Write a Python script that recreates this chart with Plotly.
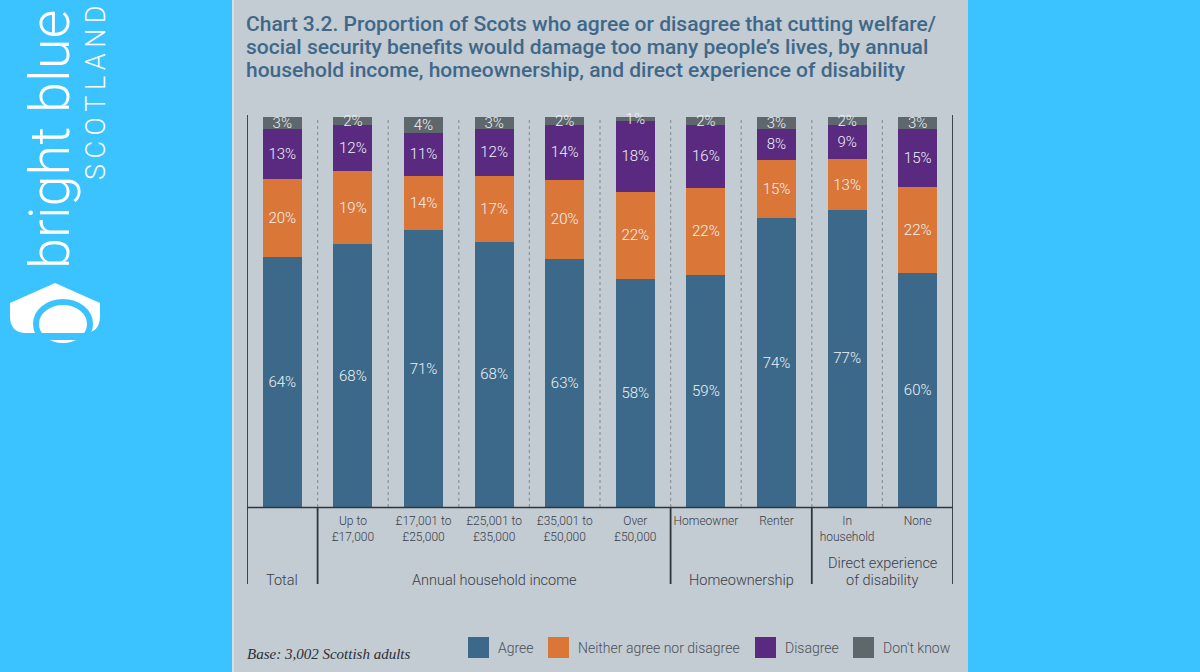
import plotly.graph_objects as go

# ---------------- data ----------------
categories = ["Total", "Up to £17,000", "£17,001 to £25,000", "£25,001 to £35,000",
              "£35,001 to £50,000", "Over £50,000", "Homeowner", "Renter",
              "In household", "None"]
tick_labels = ["", "Up to<br>£17,000", "£17,001 to<br>£25,000", "£25,001 to<br>£35,000",
               "£35,001 to<br>£50,000", "Over<br>£50,000", "Homeowner", "Renter",
               "In<br>household", "None"]
agree = [64, 68, 71, 68, 63, 58, 59, 74, 77, 60]
neither = [20, 19, 14, 17, 20, 22, 22, 15, 13, 22]
disagree = [13, 12, 11, 12, 14, 18, 16, 8, 9, 15]
dont_know = [3, 2, 4, 3, 2, 1, 2, 3, 2, 3]
series_names = ["Agree", "Neither agree nor disagree", "Disagree", "Don't know"]
group_names = ["Total", "Annual household income", "Homeownership",
               "Direct experience", "of disability"]
title_lines = ["Chart 3.2. Proportion of Scots who agree or disagree that cutting welfare/",
               "social security benefits would damage too many people’s lives, by annual",
               "household income, homeownership, and direct experience of disability"]
base_text = "Base: 3,002 Scottish adults"

# ---------------- style ----------------
series_colors = ["#3c698a", "#db7639", "#592a80", "#5e676b"]
SKY = "#3bc3ff"
PANEL = "#c3cbd3"
DARK = "#2f373d"
LABEL = "#3a4046"

# plot area in pixels
L, R, T, B = 247, 953, 117, 507
W, H = R - L, B - T


def px(x):
    return (x - L) / W


def py(y):
    return (B - y) / H


def P(x, y):
    return f"{px(x):.5f},{py(y):.5f}"


fig = go.Figure()
for name, vals, col in zip(series_names, [agree, neither, disagree, dont_know], series_colors):
    fig.add_trace(go.Bar(
        x=categories, y=vals, name=name,
        marker=dict(color=col, line=dict(width=0)),
        text=[f"{v}%" for v in vals],
        textposition="inside", insidetextanchor="middle",
        textfont=dict(family="Roboto", size=15, color="#eef2f5", weight=300),
        cliponaxis=False, showlegend=False, hoverinfo="x+y+name",
    ))

shapes = []
# panel background
shapes.append(dict(type="rect", xref="paper", yref="paper", x0=px(232), x1=px(968),
                   y0=py(672), y1=py(0), fillcolor=PANEL, line=dict(width=0), layer="below"))
shapes.append(dict(type="line", xref="paper", yref="paper", x0=px(233), x1=px(233),
                   y0=py(672), y1=py(0), line=dict(color="#d6dde3", width=2), layer="below"))
# dotted separators
for i in range(len(categories) - 1):
    shapes.append(dict(type="line", xref="x", yref="paper", x0=i + 0.5, x1=i + 0.5,
                       y0=0, y1=1, line=dict(color="#8b949b", width=1.2, dash="dot"),
                       layer="below"))
# baseline
shapes.append(dict(type="line", xref="paper", yref="paper", x0=0, x1=1, y0=py(507.5), y1=py(507.5),
                   line=dict(color=DARK, width=1.6)))
# outer verticals
for xv in [-0.5, len(categories) - 0.5]:
    shapes.append(dict(type="line", xref="x", yref="paper", x0=xv, x1=xv,
                       y0=py(584), y1=py(115), line=dict(color=DARK, width=1.8)))
# group separators below axis
for xv in [0.5, 5.5, 7.5]:
    shapes.append(dict(type="line", xref="x", yref="paper", x0=xv, x1=xv,
                       y0=py(584), y1=py(507), line=dict(color=DARK, width=1.8)))

annotations = []
# title
for line, ty in zip(title_lines, [24, 47, 69.5]):
    annotations.append(dict(text=line, xref="paper", yref="paper", x=px(244), y=py(ty),
                            xanchor="left", yanchor="middle", align="left", showarrow=False,
                            font=dict(family="Roboto", size=21, color="#3f6888", weight=500)))
# group labels
group_pos = [(0, 580), (3, 580), (6.5, 580), (8.5, 563), (8.5, 580)]
for g, (gx, gy) in zip(group_names, group_pos):
    annotations.append(dict(text=g, xref="x", yref="paper", x=gx, y=py(gy),
                            xanchor="center", yanchor="middle", showarrow=False,
                            font=dict(family="Roboto", size=14.5, color=LABEL, weight=300)))
# base note
annotations.append(dict(text=base_text, xref="paper", yref="paper", x=px(245), y=py(654),
                        xanchor="left", yanchor="middle", showarrow=False,
                        font=dict(family="Liberation Serif", size=15, color="#2b3035", style="italic")))
# manual legend
legend_box_x = [468, 548, 755, 853]
for name, col, bx in zip(series_names, series_colors, legend_box_x):
    shapes.append(dict(type="rect", xref="paper", yref="paper", x0=px(bx), x1=px(bx + 21),
                       y0=py(658), y1=py(637), fillcolor=col, line=dict(width=0)))
    annotations.append(dict(text=name, xref="paper", yref="paper", x=px(bx + 28), y=py(648),
                            xanchor="left", yanchor="middle", showarrow=False,
                            font=dict(family="Roboto", size=14, color="#4a5157", weight=300)))

# logo
annotations.append(dict(text="bright blue", xref="paper", yref="paper", x=px(50), y=py(140),
                        xanchor="center", yanchor="middle", textangle=-90, showarrow=False,
                        font=dict(family="Roboto", size=56, color="white", weight=300)))
annotations.append(dict(text="\u2009".join("SCOTLAND"), xref="paper", yref="paper",
                        x=px(96), y=py(93), xanchor="center", yanchor="middle", textangle=-90,
                        showarrow=False,
                        font=dict(family="Roboto", size=27, color="white", weight=300)))
icon = (f"M{P(10,303)} L{P(55,283)} L{P(100,303)} L{P(100,316)} Q{P(100,333)} {P(84,333)} "
        f"L{P(26,333)} Q{P(10,333)} {P(10,316)} Z")
shapes.append(dict(type="path", xref="paper", yref="paper", path=icon,
                   fillcolor="white", line=dict(width=0)))
shapes.append(dict(type="circle", xref="paper", yref="paper", x0=px(36), x1=px(90),
                   y0=py(346), y1=py(302), fillcolor="white", line=dict(color=SKY, width=6)))
shapes.append(dict(type="rect", xref="paper", yref="paper", x0=px(5), x1=px(105),
                   y0=py(340), y1=py(333), fillcolor=SKY, line=dict(width=0)))
shapes.append(dict(type="rect", xref="paper", yref="paper", x0=px(5), x1=px(105),
                   y0=py(360), y1=py(347), fillcolor=SKY, line=dict(width=0)))

fig.update_layout(
    width=1200, height=672,
    margin=dict(l=L, r=1200 - R, t=T, b=672 - B, pad=0),
    paper_bgcolor=SKY, plot_bgcolor="rgba(0,0,0,0)",
    barmode="stack", barnorm="percent", bargap=0.447,
    uniformtext=dict(minsize=15, mode="show"),
    showlegend=False,
    xaxis=dict(type="category", range=[-0.5, len(categories) - 0.5], tickvals=categories,
               ticktext=tick_labels, showgrid=False, zeroline=False, showline=False,
               ticks="", ticklabelstandoff=5,
               tickfont=dict(family="Roboto", size=12, color=LABEL, weight=300),
               fixedrange=True),
    yaxis=dict(range=[0, 100], visible=False, fixedrange=True),
    shapes=shapes, annotations=annotations,
    font=dict(family="Roboto"),
)

fig.write_html("out.html", config={"displayModeBar": False},
               post_script="document.body.style.margin='0';")
